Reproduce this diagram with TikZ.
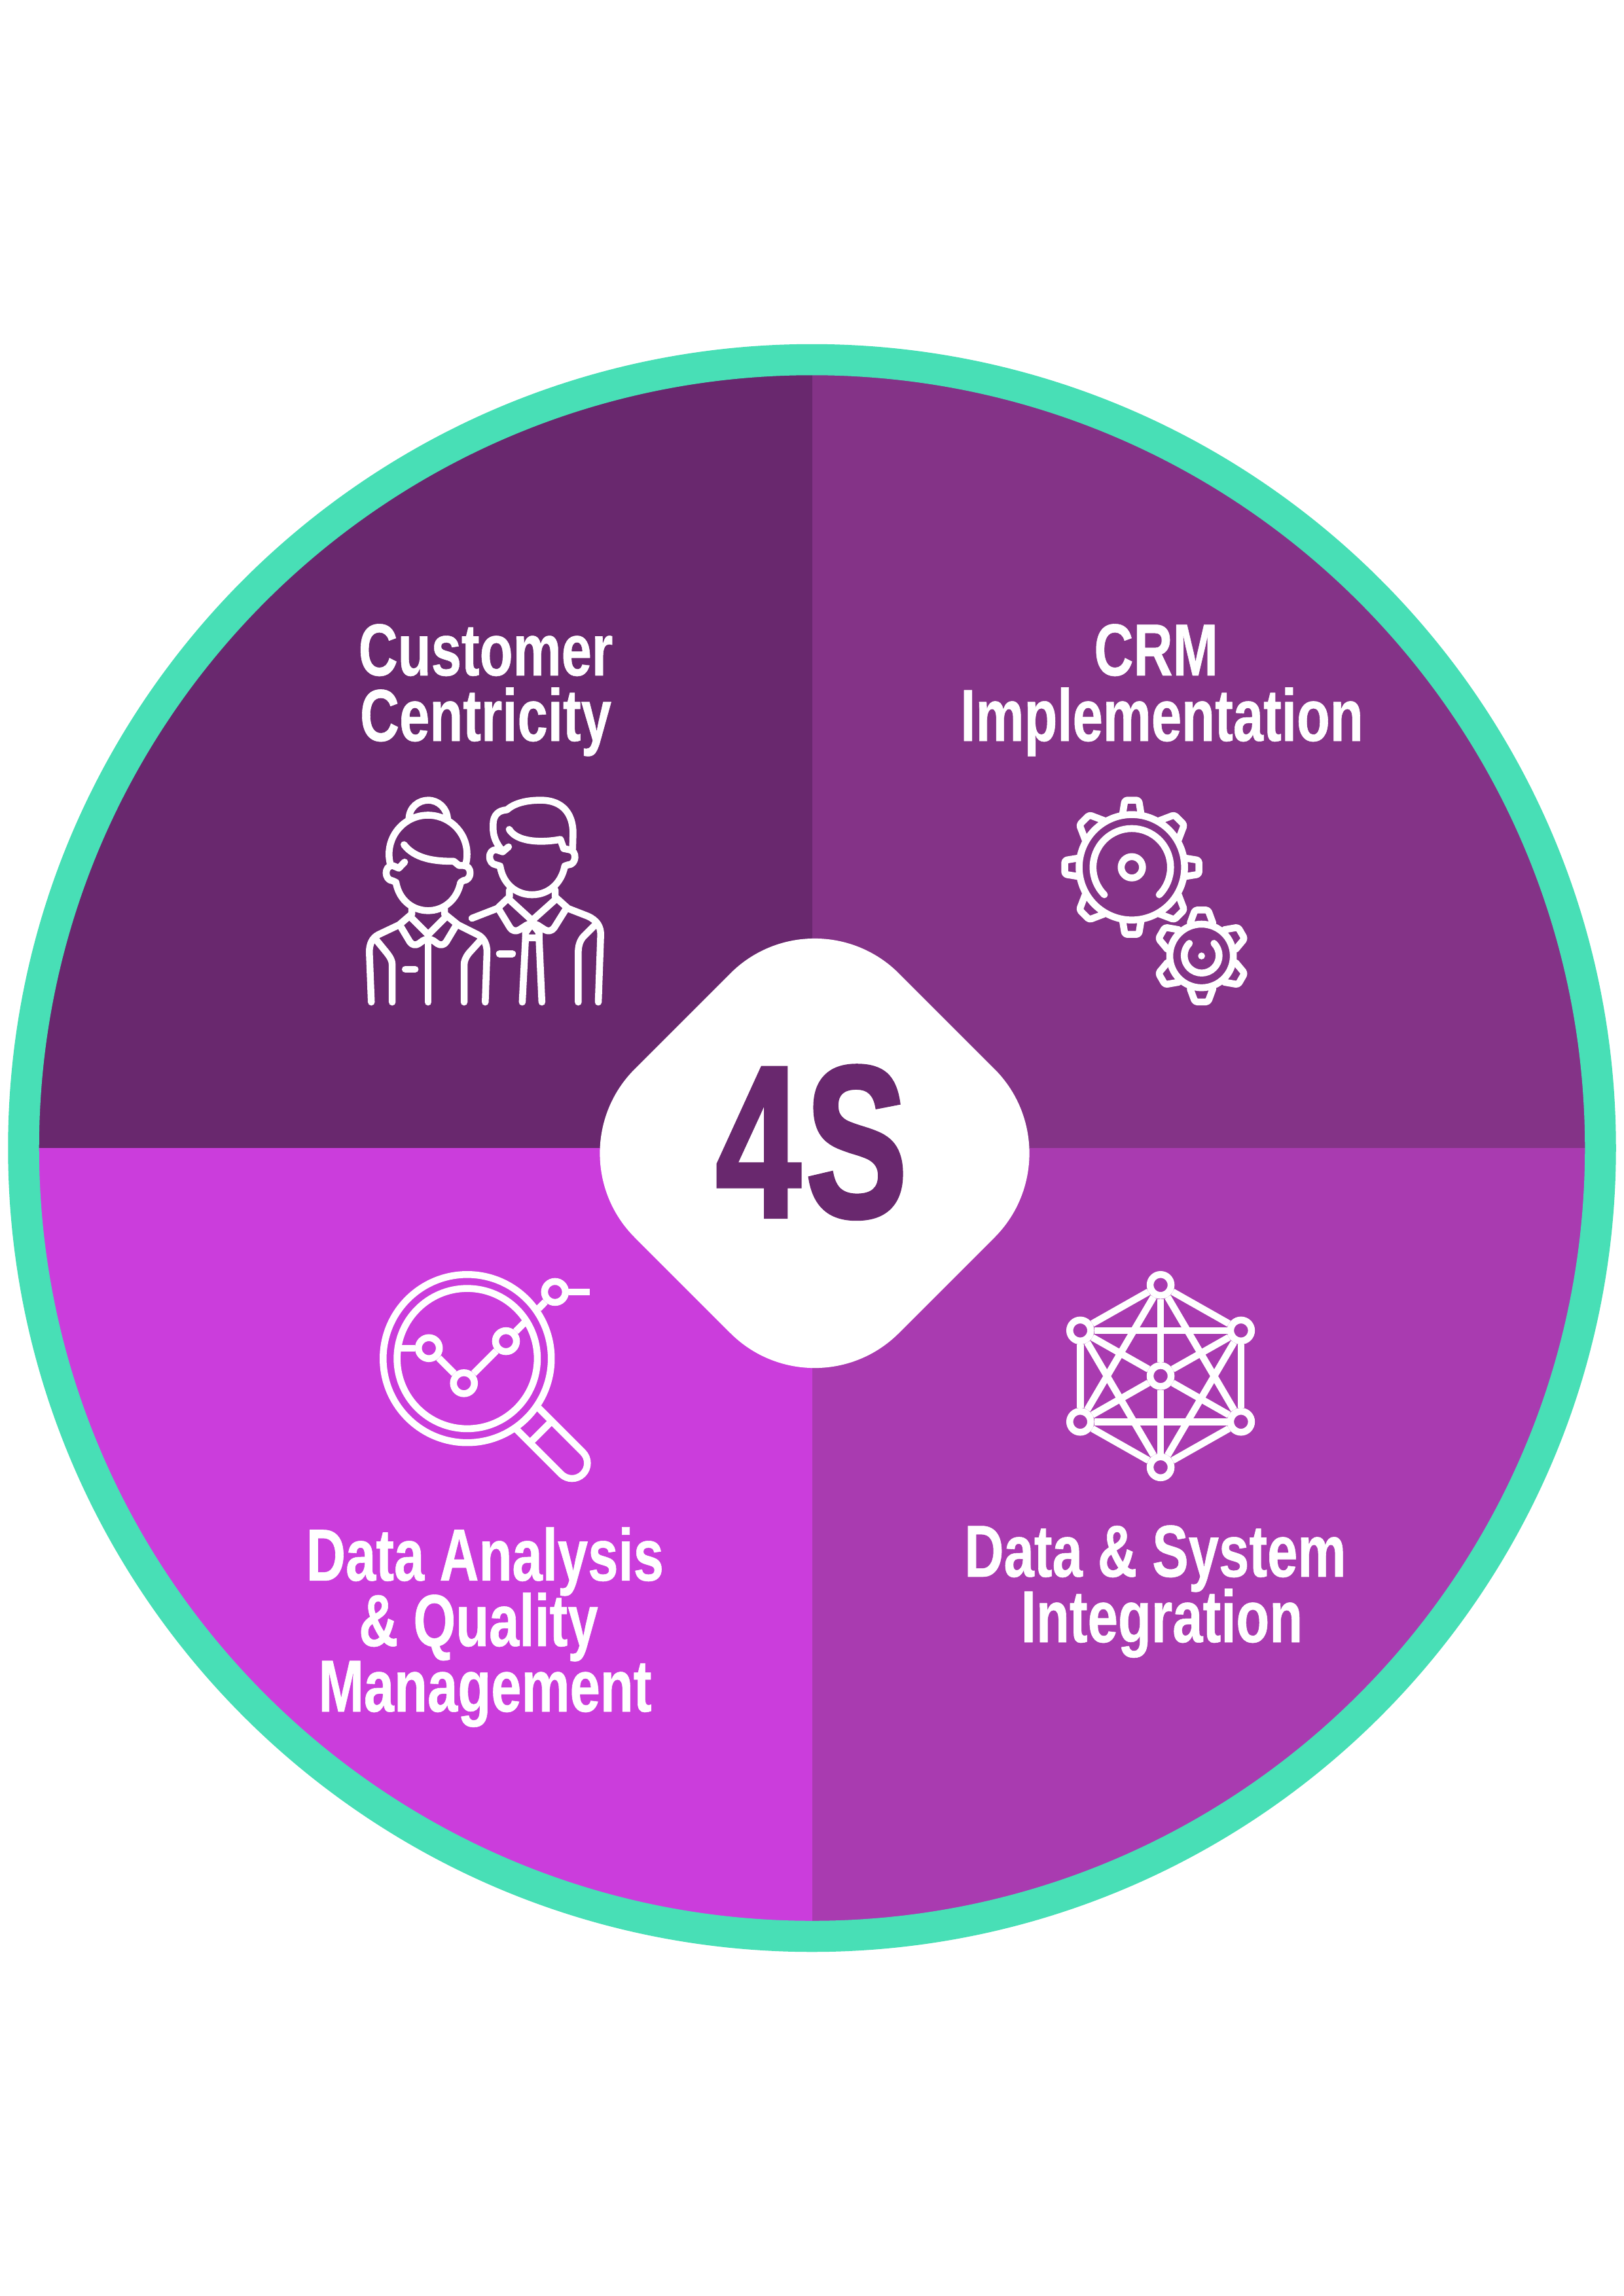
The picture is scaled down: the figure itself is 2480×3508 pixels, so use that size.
\documentclass[tikz,border=0pt]{standalone}
\usepackage{fontspec}
\newfontfamily\labelfont[FakeStretch=0.74,FakeBold=0.5]{Liberation Sans Bold}
\newfontfamily\badgefont[FakeStretch=0.7,FakeBold=1.8]{Liberation Sans Bold}
\newcommand{\labeltype}{\labelfont\fontsize{32}{28.45}\selectfont\setlength{\lineskiplimit}{-30pt}}

\definecolor{ringteal}{HTML}{48DFB6}
\definecolor{centricity}{HTML}{69286E}
\definecolor{crm}{HTML}{843387}
\definecolor{integration}{HTML}{A93BB0}
\definecolor{quality}{HTML}{CB3DDC}

\tikzset{
  icon/.style={draw=white,line width=3pt,line cap=round,line join=round},
  trend/.style={draw=white,line width=3pt,line cap=butt},
  netdot/.style={circle,draw=white,line width=3pt,minimum size=0.32cm,inner sep=0pt},
  quadlabel/.style={text=white,align=center,anchor=base,font=\labeltype},
}

\begin{document}
\begin{tikzpicture}[x=0.01cm,y=-0.01cm]
    \useasboundingbox[fill=white] (0,0) rectangle (2480,3508);

    % quadrants
    \begin{scope}
      \clip (1241,1754) circle (1190);
      \fill[centricity] (0,500) rectangle (1241,1754);
      \fill[crm] (1241,500) rectangle (2480,1754);
      \fill[quality] (0,1754) rectangle (1241,3000);
      \fill[integration] (1241,1754) rectangle (2480,3000);
    \end{scope}

    % outer ring
    \draw[ringteal,line width=13.5pt] (1240.5,1754) circle (1204.5);

    % centre badge
    \fill[white] (969.7,1633.3) -- (1115.8,1487.2) arc[start angle=225,end angle=315,radius=182]
      -- (1519.3,1633.3) arc[start angle=315,end angle=405,radius=182]
      -- (1373.2,2036.8) arc[start angle=45,end angle=135,radius=182]
      -- (969.7,1890.7) arc[start angle=135,end angle=225,radius=182] -- cycle;
    \node[anchor=base,text=centricity,font=\badgefont\fontsize{94}{94}\selectfont,inner sep=0pt] (badge) at (1240,1859) {4\kern2.5pt S};

    % labels
    \node[quadlabel] (customer) at (742,1132) {Customer\\Centricity};
    \node[quadlabel] (implementation) at (1775,1132) {CRM\kern5pt\\Implementation};
    \node[quadlabel] (analysis) at (741,2615) {Data Analysis\\\&\ Quality\kern5.7pt\\Management};
    \node[quadlabel] (system) at (1775,2509) {Data \&\ System\kern5.7pt\\Integration};

    % people icon
    \begin{scope}[shift={(520,1180)},x=0.003333cm,y=-0.003333cm]
      % woman
      \draw[icon] (315,215) .. controls (315,160) and (360,128) .. (403,128) .. controls (450,128) and (490,165) .. (492,215);
      \draw[icon] (228,416) arc[start angle=167,end angle=373,radius=179];
      \draw[icon] (292,332) .. controls (340,395) and (430,410) .. (520,408) -- (545,428) -- (565,428)
        .. controls (606,428) and (606,495) .. (565,497) -- (552,505)
        .. controls (535,590) and (470,635) .. (403,635) .. controls (335,635) and (270,590) .. (255,505)
        -- (240,498) .. controls (200,495) and (200,428) .. (240,428) -- (268,440) -- (295,412);
      \draw[icon] (328,625) -- (328,650) -- (270,700) -- (175,745) .. controls (145,760) and (133,790) .. (133,825) -- (142,1055);
      \draw[icon] (478,625) -- (478,650) -- (540,700) -- (630,745) .. controls (660,760) and (673,790) .. (673,825) -- (665,1055);
      \draw[icon,rounded corners=3pt] (275,705) -- (335,805) -- (403,755) -- (470,805) -- (530,705);
      \draw[icon] (320,662) -- (403,745) -- (486,662);
      \draw[icon] (403,745) -- (403,1055);
      \draw[icon] (165,770) -- (210,825) .. controls (230,850) and (238,865) .. (238,885) -- (238,1055);
      \draw[icon] (640,775) -- (590,830) .. controls (575,850) and (568,865) .. (568,885) -- (568,1055);
      \draw[icon] (298,904) -- (343,904);
      % man
      \draw[icon] (735,350) .. controls (705,310) and (700,280) .. (701,240) .. controls (702,195) and (725,175) .. (765,172)
        .. controls (800,140) and (860,127) .. (925,128) .. controls (1020,130) and (1068,190) .. (1068,280) -- (1066,350);
      \draw[icon] (775,262) .. controls (810,320) and (920,325) .. (1010,308) -- (1025,350) -- (1050,355)
        .. controls (1088,358) and (1085,425) .. (1045,425) -- (1030,430)
        .. controls (1015,510) and (955,562) .. (880,562) .. controls (805,562) and (745,510) .. (733,430)
        -- (715,425) .. controls (675,420) and (675,355) .. (715,355) -- (745,365) -- (772,342);
      \draw[icon] (776,540) -- (776,572) -- (720,625) -- (604,670);
      \draw[icon] (986,540) -- (986,572) -- (1045,625) -- (1135,660) .. controls (1180,680) and (1195,710) .. (1195,745) -- (1184,1055);
      \draw[icon] (776,585) -- (880,680) -- (986,585);
      \draw[icon,rounded corners=3pt] (725,625) -- (795,740) -- (880,685) -- (965,740) -- (1037,625);
      \draw[icon] (880,695) -- (850,735) -- (850,760) -- (912,760) -- (912,735) -- cycle;
      \draw[icon] (850,760) -- (835,1055);
      \draw[icon] (912,760) -- (925,1055);
      \draw[icon] (1170,700) -- (1115,755) .. controls (1098,775) and (1092,800) .. (1092,825) -- (1092,1055);
      \draw[icon] (730,833) -- (790,833);
    \end{scope}

    % gears icon
    \begin{scope}[shift={(1580,1180)},x=0.003333cm,y=-0.003333cm]
      \draw[icon] (448,436) circle (242);
      \draw[icon] (448,436) circle (49);
      \draw[icon] (322,562) arc[start angle=135,end angle=405,radius=178];
      \foreach \a/\w/\t in {0/43/32,90/43/32,180/43/32,270/43/32,45/62/32,135/62/32,225/62/32,315/62/32}
        \draw[icon,rounded corners=1pt,rotate around={\a:(448,436)}]
          ({448-\w},195) -- ({448-\t},128) -- ({448+\t},128) -- ({448+\w},195);
      \draw[icon] (768,843) circle (146);
      \fill[white] (768,843) circle (16);
      \draw[icon] (712,785) arc[start angle=225,end angle=-45,radius=80];
      \foreach \a in {0,60,...,300}
        \draw[icon,rounded corners=1pt,rotate around={\a:(768,843)}]
          (716,692) -- (738,632) -- (798,632) -- (820,692);
    \end{scope}

    % magnifier icon
    \begin{scope}[shift={(560,1910)},x=0.003333cm,y=-0.003333cm]
      \draw[trend] (462,498) circle (386);
      \draw[trend] (462,498) circle (322);
      \node[netdot] (pointa) at (286,450) {};
      \node[netdot] (pointb) at (447,611) {};
      \node[netdot] (pointc) at (640,418) {};
      \node[netdot] (pointd) at (865,192) {};
      \coordinate (lensleft) at (150,450);
      \coordinate (lensinner) at (726,332);
      \coordinate (lensouter) at (790,268);
      \coordinate (trendend) at (1025,192);
      \draw[trend] (lensleft) -- (pointa);
      \draw[trend] (pointa) -- (pointb);
      \draw[trend] (pointb) -- (pointc);
      \draw[trend] (pointc) -- (lensinner);
      \draw[trend] (lensouter) -- (pointd);
      \draw[trend] (pointd) -- (trendend);
      \draw[trend] (690,825) -- (893,1028) arc[start angle=135,end angle=-45,radius=70.7] -- (790,725);
      \draw[trend] (760,875) -- (840,795);
    \end{scope}

    % network icon
    \begin{scope}[shift={(1600,1910)},x=0.003333cm,y=-0.003333cm]
      \node[netdot] (top) at (520,160) {};
      \node[netdot] (upright) at (889,369) {};
      \node[netdot] (lowright) at (889,788) {};
      \node[netdot] (bottom) at (520,997) {};
      \node[netdot] (lowleft) at (151,788) {};
      \node[netdot] (upleft) at (151,369) {};
      \node[netdot] (hub) at (520,578) {};
      \foreach \p/\q in {top/upright,upright/lowright,lowright/bottom,bottom/lowleft,lowleft/upleft,upleft/top,
        top/hub,hub/bottom,upleft/hub,hub/lowright,upright/hub,hub/lowleft,
        upleft/upright,lowleft/lowright,top/lowleft,top/lowright,bottom/upleft,bottom/upright}
        \draw[trend] (\p) -- (\q);
    \end{scope}

\end{tikzpicture}
\end{document}
